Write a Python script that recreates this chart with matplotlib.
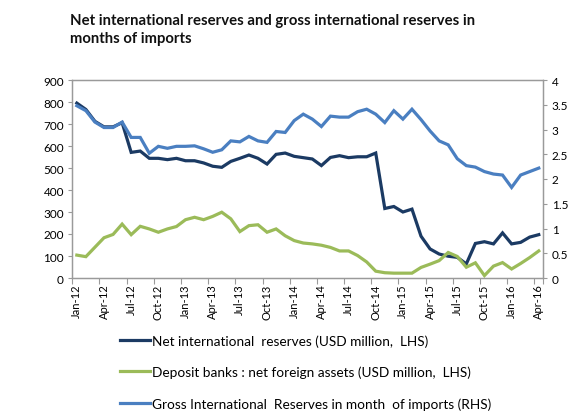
import matplotlib
matplotlib.use("Agg")
import matplotlib.pyplot as plt
from matplotlib.ticker import FixedLocator, NullFormatter

plt.rcParams['font.family'] = ['Lato', 'DejaVu Sans']

months = [f"{m}-{y}" for y in ("12", "13", "14", "15") for m in
          ("Jan", "Feb", "Mar", "Apr", "May", "Jun", "Jul", "Aug", "Sep", "Oct", "Nov", "Dec")]
months += ["Jan-16", "Feb-16", "Mar-16", "Apr-16"]

net_reserves = [
    795, 766, 712, 687, 687, 706, 571, 577, 544, 544, 538, 544,
    533, 533, 523, 508, 503, 530, 544, 559, 544, 518, 562, 568,
    553, 547, 541, 511, 548, 556, 547, 551, 551, 568, 316, 325,
    300, 313, 190, 132, 109, 99, 94, 64, 157, 165, 155, 205,
    155, 162, 186, 197,
]
deposit_banks_nfa = [
    104, 97, 140, 183, 198, 245, 197, 235, 223, 208, 223, 234,
    265, 276, 265, 280, 299, 269, 211, 238, 242, 208, 223, 192,
    170, 159, 155, 149, 139, 123, 123, 102, 73, 31, 24, 22,
    22, 22, 48, 63, 79, 116, 98, 49, 69, 11, 54, 70,
    41, 66, 93, 123,
]
gross_reserves_months = [
    3.48, 3.38, 3.15, 3.04, 3.04, 3.15, 2.84, 2.84, 2.52, 2.66, 2.62, 2.66,
    2.66, 2.67, 2.61, 2.54, 2.59, 2.77, 2.75, 2.86, 2.77, 2.74, 2.96, 2.94,
    3.18, 3.31, 3.21, 3.06, 3.27, 3.25, 3.25, 3.36, 3.41, 3.31, 3.14, 3.38,
    3.21, 3.41, 3.20, 2.97, 2.77, 2.69, 2.41, 2.27, 2.24, 2.15, 2.10, 2.08,
    1.83, 2.08, 2.15, 2.22,
]

legend_labels = [
    "Net international  reserves (USD million,  LHS)",
    "Deposit banks : net foreign assets (USD million,  LHS)",
    "Gross International  Reserves in month  of imports (RHS)",
]

c_net = "#1B3A63"
c_dep = "#9BBB59"
c_gross = "#4A7FC1"
axis_col = "#9A9A9A"

fig = plt.figure(figsize=(5.68, 4.14), dpi=100)
ax = fig.add_axes([72.3 / 568, 1 - 279 / 414, 471 / 568, 198 / 414])
ax2 = ax.twinx()

x = list(range(len(months)))
l1, = ax.plot(x, net_reserves, color=c_net, lw=2.3, solid_joinstyle='miter')
l2, = ax.plot(x, deposit_banks_nfa, color=c_dep, lw=2.3, solid_joinstyle='miter')
l3, = ax2.plot(x, gross_reserves_months, color=c_gross, lw=2.3, solid_joinstyle='miter')

ax.set_xlim(-0.5, len(months) - 0.5)
ax.set_ylim(0, 900)
ax2.set_ylim(0, 4)
ax.set_yticks(range(0, 901, 100))
ax2.set_yticks([0, 0.5, 1, 1.5, 2, 2.5, 3, 3.5, 4])
ax2.set_yticklabels(["0", "0.5", "1", "1.5", "2", "2.5", "3", "3.5", "4"])

# category labels every quarter, tick marks between categories
lab_pos = list(range(0, len(months), 3))
ax.set_xticks(lab_pos)
ax.set_xticklabels([months[i] for i in lab_pos], rotation=90, fontsize=8)
ax.tick_params(axis='x', which='major', length=0, pad=4)
ax.xaxis.set_minor_locator(FixedLocator([p - 0.5 for p in lab_pos] + [len(months) - 0.5]))
ax.xaxis.set_minor_formatter(NullFormatter())
ax.tick_params(axis='x', which='minor', length=4, color=axis_col, width=0.8)

ax.tick_params(axis='y', labelsize=8.5, length=3, color=axis_col, width=0.8, pad=3)
ax2.tick_params(axis='y', labelsize=8.5, length=3, color=axis_col, width=0.8, pad=3)

for a in (ax, ax2):
    for s in a.spines.values():
        s.set_color(axis_col)
        s.set_linewidth(0.9)

fig.text(70 / 568, 1 - 14 / 414,
         "Net international reserves and gross international reserves in\nmonths of imports",
         ha='left', va='top', fontsize=10.7, fontweight='bold', linespacing=1.4,
         color="#111111")

leg = fig.legend([l1, l2, l3], legend_labels, loc='upper left',
                 bbox_to_anchor=(120 / 568, 1 - 335 / 414), frameon=False,
                 fontsize=9.8, handlelength=2.2, handletextpad=0.15,
                 labelspacing=1.4, borderaxespad=0, borderpad=0)

fig.savefig("out.png", dpi=100)
